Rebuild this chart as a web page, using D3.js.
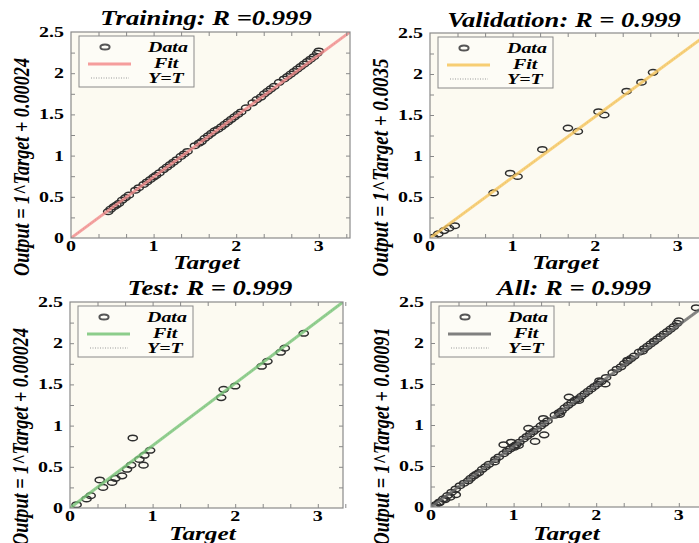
<!DOCTYPE html>
<html>
<head>
<meta charset="utf-8">
<script src="https://cdn.jsdelivr.net/npm/d3@7"></script>
<style>
  body { margin: 0; background: #fff; }
  svg text { font-family: "Liberation Serif", "Times New Roman", serif; font-weight: bold; }
</style>
</head>
<body>
<svg id="chart" width="699" height="543"></svg>
<script>
// ---- data ([target, output]) ----
const trainingData = [
  [0.45,0.32],[0.48,0.35],[0.52,0.38],[0.55,0.40],[0.58,0.42],[0.62,0.46],[0.66,0.49],[0.70,0.52],
  [0.78,0.58],[0.82,0.61],[0.88,0.65],[0.92,0.68],[0.96,0.71],[1.00,0.74],[1.03,0.76],[1.07,0.79],
  [1.12,0.83],[1.16,0.86],[1.20,0.89],[1.24,0.92],[1.28,0.95],[1.33,0.99],[1.37,1.02],[1.41,1.05],
  [1.50,1.12],[1.55,1.15],[1.58,1.17],[1.62,1.21],[1.66,1.24],[1.70,1.27],[1.74,1.30],[1.78,1.32],
  [1.82,1.35],[1.86,1.38],[1.90,1.41],[1.94,1.44],[1.98,1.47],[2.02,1.50],[2.06,1.53],[2.12,1.58],
  [2.20,1.64],[2.25,1.68],[2.30,1.71],[2.34,1.75],[2.38,1.78],[2.42,1.81],[2.46,1.84],[2.52,1.89],
  [2.58,1.93],[2.62,1.96],[2.66,1.99],[2.70,2.02],[2.74,2.05],[2.78,2.08],[2.82,2.11],[2.86,2.14],
  [2.90,2.17],[2.94,2.20],[2.98,2.24],[3.00,2.27]
];
const validationData = [
  [0.04,0.01],[0.10,0.05],[0.17,0.09],[0.23,0.12],[0.30,0.15],
  [0.77,0.55],[0.97,0.79],[1.06,0.75],[1.36,1.08],[1.67,1.34],[1.79,1.30],
  [2.04,1.54],[2.11,1.50],[2.38,1.79],[2.56,1.90],[2.70,2.02]
];
const testData = [
  [0.08,0.04],[0.20,0.11],[0.25,0.15],[0.40,0.25],[0.36,0.34],[0.51,0.31],[0.55,0.36],[0.63,0.39],
  [0.69,0.47],[0.74,0.52],[0.76,0.85],[0.84,0.59],[0.89,0.52],[0.90,0.64],[0.97,0.70],
  [1.83,1.34],[1.86,1.44],[2.00,1.48],[2.32,1.72],[2.39,1.78],[2.55,1.89],[2.60,1.94],[2.83,2.12]
];
const allExtraData = [
  [0.03,0.01],[0.06,0.03],[0.10,0.06],[0.15,0.10],[0.20,0.14],[0.25,0.18],[0.30,0.22],[0.35,0.26],[0.40,0.29],
  [0.88,0.76],[1.01,0.73],[1.18,0.96],[1.26,0.80],[1.37,0.88],[1.56,1.13],[3.21,2.43]
];
const allData = trainingData.concat(validationData, allExtraData);

const panelTitles = ["Training: R =0.999", "Validation: R = 0.999", "Test: R = 0.999", "All: R = 0.999"];
const yAxisLabels = ["Output = 1^Target + 0.00024", "Output = 1^Target + 0.0035",
                     "Output = 1^Target + 0.00024", "Output = 1^Target + 0.00091"];
const fitColors = ["#f38c8c", "#f6c65c", "#78c478", "#6a6a6a"];
const panelData = [trainingData, validationData, testData, allData];
const legendLabels = ["Data", "Fit", "Y=T"];

const xTickLabels = [0, 1, 2, 3];
const yTickLabels = [0, 0.5, 1, 1.5, 2, 2.5];
const xMinorTicks = [0.333, 0.667, 1, 1.333, 1.667, 2, 2.333, 2.667, 3, 3.333];
const yMinorTicks = [0.25, 0.5, 0.75, 1, 1.25, 1.5, 1.75, 2, 2.25];

// ---- layout (pixel boxes of the four plot areas) ----
const boxes = [
  { l: 71,  t: 32,  r: 350, b: 238, titleX: 206, titleY: 25,  labY: 269 },
  { l: 430, t: 33,  r: 709, b: 238, titleX: 564, titleY: 27,  labY: 269 },
  { l: 70,  t: 302, r: 343, b: 508, titleX: 210, titleY: 295, labY: 540 },
  { l: 431, t: 302, r: 710, b: 507, titleX: 574, titleY: 295, labY: 540 }
];
const pxPerUnit = 82.6;
const sx = 1.33; // the picture is stretched sideways, text too

const svg = d3.select("#chart");

function stretchText(g, x, y, str, size, anchor, italic) {
  return g.append("text")
    .attr("transform", `translate(${x},${y}) scale(${sx},1)`)
    .attr("text-anchor", anchor)
    .style("font-size", size + "px")
    .style("font-style", italic ? "italic" : "normal")
    .text(str);
}

boxes.forEach((bx, i) => {
  const w = bx.r - bx.l, h = bx.b - bx.t;
  const x = d3.scaleLinear().domain([0, w / pxPerUnit]).range([bx.l, bx.r]);
  const y = d3.scaleLinear().domain([0, 2.5]).range([bx.b, bx.t]);
  const g = svg.append("g");

  // plot background
  g.append("rect")
    .attr("x", bx.l).attr("y", bx.t).attr("width", w).attr("height", h)
    .attr("fill", "#fcfaf1");

  const clipId = "clip" + i;
  svg.append("clipPath").attr("id", clipId)
    .append("rect").attr("x", bx.l).attr("y", bx.t).attr("width", w).attr("height", h);

  const plot = g.append("g").attr("clip-path", `url(#${clipId})`);

  // Y=T reference line (dotted) and fit line from origin to the top-right corner
  const xEnd = x.domain()[1];
  plot.append("line")
    .attr("x1", x(0)).attr("y1", y(0)).attr("x2", x(xEnd)).attr("y2", y(2.5))
    .attr("stroke", "#999").attr("stroke-dasharray", "1,2");

  // data markers
  plot.selectAll("ellipse.pt")
    .data(panelData[i])
    .enter().append("ellipse")
    .attr("class", "pt")
    .attr("cx", d => x(d[0]))
    .attr("cy", d => y(d[1]))
    .attr("rx", 4.6).attr("ry", 2.8)
    .attr("fill", "none")
    .attr("stroke", "#2e2e2e")
    .attr("stroke-width", 1.5);

  plot.append("line")
    .attr("x1", x(0)).attr("y1", y(0)).attr("x2", x(xEnd)).attr("y2", y(2.5))
    .attr("stroke", fitColors[i]).attr("stroke-width", 3)
    .attr("stroke-opacity", 0.8);

  // inward ticks on all four sides
  const tickCol = "#888";
  const axes = [
    [d3.axisBottom(x).tickValues(xMinorTicks).tickSizeInner(-4), `translate(0,${bx.b})`],
    [d3.axisTop(x).tickValues(xMinorTicks).tickSizeInner(-4), `translate(0,${bx.t})`],
    [d3.axisLeft(y).tickValues(yMinorTicks).tickSizeInner(-4), `translate(${bx.l},0)`],
    [d3.axisRight(y).tickValues(yMinorTicks).tickSizeInner(-4), `translate(${bx.r},0)`]
  ];
  axes.forEach(([ax, tr]) => {
    const a = g.append("g").attr("transform", tr)
      .call(ax.tickSizeOuter(0).tickFormat(""));
    a.select(".domain").remove();
    a.selectAll("line").attr("stroke", tickCol);
  });

  // frame
  g.append("rect")
    .attr("x", bx.l).attr("y", bx.t).attr("width", w).attr("height", h)
    .attr("fill", "none").attr("stroke", "#8a8a8a").attr("stroke-width", 1.2);

  // tick labels
  xTickLabels.forEach(v => {
    stretchText(g, x(v), bx.b + 13, String(v), 15, "middle", false);
  });
  yTickLabels.forEach(v => {
    stretchText(g, bx.l - 7, y(v) + 5, String(v), 15, "end", false);
  });

  // titles and axis labels
  stretchText(g, bx.titleX, bx.titleY, panelTitles[i], 20, "middle", true);
  stretchText(g, (bx.l + bx.r) / 2 - 4, bx.labY, "Target", 19, "middle", true);

  g.append("text")
    .attr("transform", `translate(${bx.l - 42},${(bx.t + bx.b) / 2 + 32}) scale(${sx},1) rotate(-90)`)
    .attr("text-anchor", "middle")
    .attr("textLength", 218)
    .attr("lengthAdjust", "spacingAndGlyphs")
    .style("font-size", "18px")
    .style("font-style", "italic")
    .text(yAxisLabels[i]);

  // legend
  const lg = g.append("g").attr("transform", `translate(${bx.l + 8},${bx.t + 4})`);
  lg.append("rect").attr("width", 115).attr("height", 51)
    .attr("fill", "#fdfcf6").attr("stroke", "#8a8a8a").attr("stroke-width", 1);
  lg.append("ellipse").attr("cx", 26).attr("cy", 11).attr("rx", 4.6).attr("ry", 2.6)
    .attr("fill", "none").attr("stroke", "#555").attr("stroke-width", 2);
  lg.append("line").attr("x1", 9).attr("x2", 52).attr("y1", 28).attr("y2", 28)
    .attr("stroke", fitColors[i]).attr("stroke-width", 3).attr("stroke-opacity", 0.85);
  lg.append("line").attr("x1", 12).attr("x2", 50).attr("y1", 42).attr("y2", 42)
    .attr("stroke", "#999").attr("stroke-dasharray", "1,1.5");
  stretchText(lg, 69, 16, legendLabels[0], 15, "start", true);
  stretchText(lg, 75, 32, legendLabels[1], 15, "start", true);
  stretchText(lg, 69, 47, legendLabels[2], 15, "start", true);
});
</script>
</body>
</html>
